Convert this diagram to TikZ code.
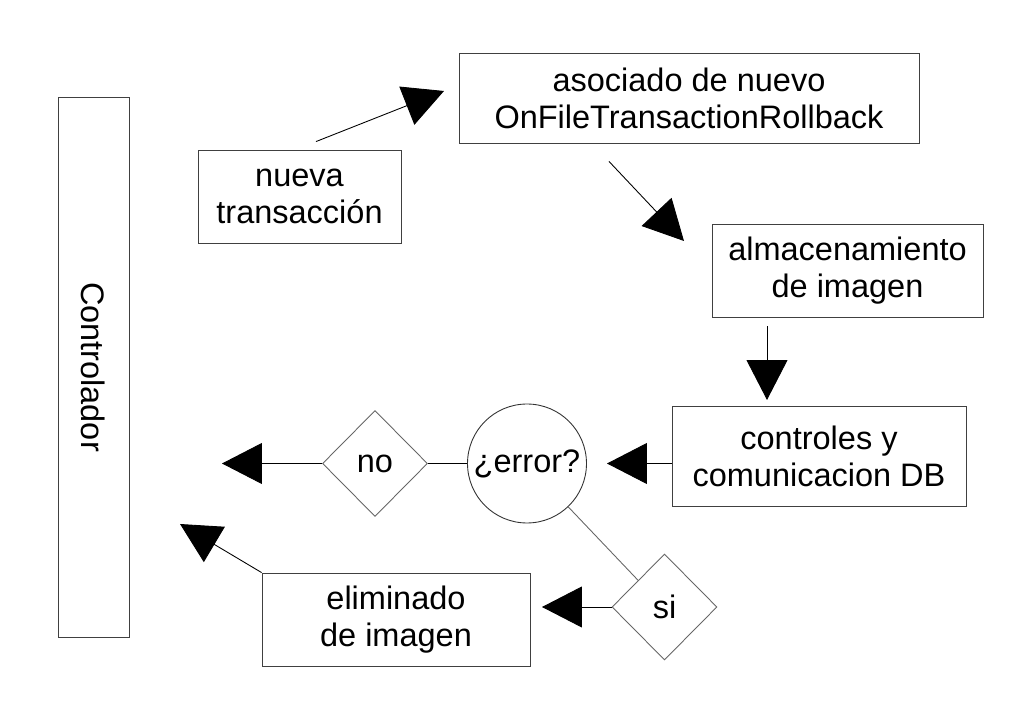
\documentclass[tikz,border=0pt]{standalone}
\usepackage{fontspec}
\setmainfont{Liberation Sans}
\usetikzlibrary{shapes,shapes.geometric,arrows.meta,calc,positioning}
\tikzset{
    box/.style={draw=black!75, line width=0.5pt, align=center,
    text centered, inner sep=0pt, minimum height=1.86cm},
    decision/.style={diamond, draw=black!60, line width=0.5pt, inner sep=0pt,
    minimum width=2.1cm, minimum height=2.12cm},
    question/.style={circle, draw=black!80, line width=0.5pt, inner sep=0pt, minimum size=2.38cm},
    flecha/.style={-{Triangle[length=0.8cm,width=0.82cm]}, line width=0.5pt}
}

\begin{document}
\begin{tikzpicture}[x=0.02cm,y=-0.02cm,font=\fontsize{18.5}{21}\selectfont]
    \useasboundingbox (0,0) rectangle (1029,709);
    \node (ctrl) [box,rotate=-90,minimum width=10.8cm,minimum height=1.42cm] at (93.5,367) {Controlador};
    \node (nueva) [box,minimum width=4.06cm] at (299.5,196.5) {nueva\\transacción};
    \node (asoc) [box,minimum width=9.2cm,minimum height=1.8cm] at (689,98) {asociado de nuevo\\OnFileTransactionRollback};
    \node (alm) [box,minimum width=5.42cm] at (847.5,270.5) {almacenamiento\\de imagen};
    \node (dbctl) [box,minimum width=5.88cm,minimum height=2cm] at (819,456.5) {controles y\\comunicacion DB};
    \node (err) [question] at (527,463.5) {¿error?};
    \node (no) [decision] at (375,463.5) {no};
    \node (si) [decision] at (664.5,607) {si};
    \node (elim) [box,minimum width=5.36cm] at (396,619.5) {eliminado\\de imagen};
    % puntas libres
    \coordinate (tipA) at (444,91);
    \coordinate (tipB) at (684,241);
    \coordinate (tipC) at (767,400);
    \coordinate (tipD) at (607,463.5);
    \coordinate (tipE) at (222,463.5);
    \coordinate (tipF) at (542,607);
    \coordinate (tipG) at (180,524);
    \draw[flecha] ($(nueva.north)+(16.5,-8)$) -- (tipA);
    \draw[flecha] ($(asoc.south)+(-80,18)$) -- (tipB);
    \draw[flecha] ($(alm.south)+(-80.5,9)$) -- (tipC);
    \draw[flecha] (dbctl.west |- err) -- (tipD);
    \draw[line width=0.5pt] (err) -- (no);
    \draw[flecha] (no.west) -- (tipE);
    \draw[line width=0.5pt,black!60] (err) -- (si.north west);
    \draw[flecha] (si.west) -- (tipF);
    \draw[flecha] (elim.north west) -- (tipG);
\end{tikzpicture}
\end{document}
